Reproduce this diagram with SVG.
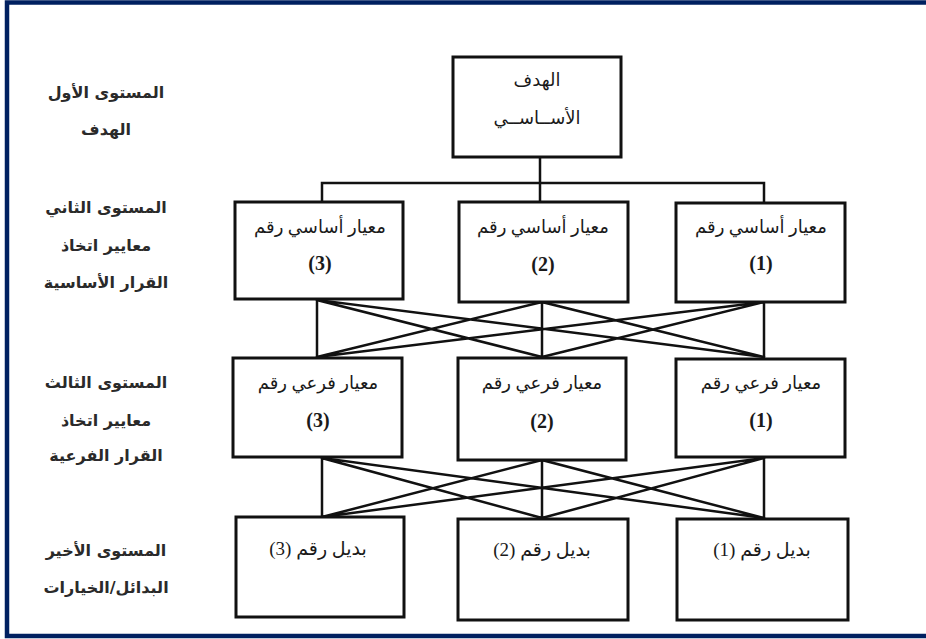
<svg xmlns="http://www.w3.org/2000/svg" width="926" height="639" viewBox="0 0 926 639">
  <style>
    .box { fill: #ffffff; stroke: #111111; stroke-width: 3; }
    .link { fill: none; stroke: #111111; stroke-width: 2.5; stroke-linecap: square; }
    .frame { fill: none; stroke: #002060; stroke-width: 4.5; }
    .lvl { font-family: "DejaVu Sans", sans-serif; font-weight: bold; font-size: 16px; fill: #2a2a2a; text-anchor: middle; }
    .node { font-family: "Liberation Serif", "DejaVu Sans", serif; font-size: 18px; fill: #1a1a1a; text-anchor: middle; }
    .alt { font-family: "Liberation Serif", "DejaVu Sans", serif; font-size: 19px; fill: #1a1a1a; text-anchor: middle; }
    .num { font-family: "Liberation Serif", serif; font-weight: bold; font-size: 20px; fill: #1a1a1a; text-anchor: middle; }
  </style>

  <rect width="926" height="639" fill="#ffffff"/>
  <!-- page frame (open on the right) -->
  <path class="frame" d="M926 2.5 H7 V636 H926"/>

  <!-- level captions -->
  <g id="captions" direction="rtl">
    <text class="lvl" x="106" y="98">المستوى الأول</text>
    <text class="lvl" x="106" y="135">الهدف</text>
    <text class="lvl" x="106" y="213">المستوى الثاني</text>
    <text class="lvl" x="106" y="251">معايير اتخاذ</text>
    <text class="lvl" x="106" y="288">القرار الأساسية</text>
    <text class="lvl" x="106" y="388">المستوى الثالث</text>
    <text class="lvl" x="106" y="426">معايير اتخاذ</text>
    <text class="lvl" x="106" y="461">القرار الفرعية</text>
    <text class="lvl" x="106" y="556">المستوى الأخير</text>
    <text class="lvl" x="106" y="593">البدائل/الخيارات</text>
  </g>

  <!-- connectors -->
  <g id="connectors">
    <path class="link" d="M540 157 V183 M322 183 H764 M322 183 V202 M540 183 V202 M764 183 V202"/>
    <!-- main criteria to sub-criteria -->
    <path class="link" d="M317 300 L317 357 M317 300 L542 357 M317 300 L764 357
                          M542 302 L317 357 M542 302 L542 357 M542 302 L764 357
                          M764 302 L317 357 M764 302 L542 357 M764 302 L764 357"/>
    <!-- sub-criteria to alternatives -->
    <path class="link" d="M322 458 L322 517 M322 458 L542 518 M322 458 L764 518
                          M542 460 L322 517 M542 460 L542 518 M542 460 L764 518
                          M764 458 L322 517 M764 458 L542 518 M764 458 L764 518"/>
  </g>

  <!-- level 1 -->
  <g id="goal">
    <rect class="box" x="453" y="57" width="168" height="100"/>
    <text class="node" x="537" y="86" direction="rtl">الهدف</text>
    <text class="node" x="537" y="124" direction="rtl">الأســاســي</text>
  </g>

  <!-- level 2 -->
  <g id="main-3">
    <rect class="box" x="235" y="202" width="168" height="97"/>
    <text class="node" x="320" y="233" direction="rtl">معيار أساسي رقم</text>
    <text class="num" x="320" y="270">(3)</text>
  </g>
  <g id="main-2">
    <rect class="box" x="459" y="202" width="169" height="100"/>
    <text class="node" x="543" y="233" direction="rtl">معيار أساسي رقم</text>
    <text class="num" x="543" y="271">(2)</text>
  </g>
  <g id="main-1">
    <rect class="box" x="676" y="203" width="169" height="99"/>
    <text class="node" x="761" y="233" direction="rtl">معيار أساسي رقم</text>
    <text class="num" x="761" y="270">(1)</text>
  </g>

  <!-- level 3 -->
  <g id="sub-3">
    <rect class="box" x="233" y="358" width="169" height="99"/>
    <text class="node" x="318" y="389" direction="rtl">معيار فرعي رقم</text>
    <text class="num" x="318" y="427">(3)</text>
  </g>
  <g id="sub-2">
    <rect class="box" x="458" y="358" width="168" height="102"/>
    <text class="node" x="542" y="389" direction="rtl">معيار فرعي رقم</text>
    <text class="num" x="542" y="428">(2)</text>
  </g>
  <g id="sub-1">
    <rect class="box" x="676" y="359" width="169" height="98"/>
    <text class="node" x="761" y="389" direction="rtl">معيار فرعي رقم</text>
    <text class="num" x="761" y="427">(1)</text>
  </g>

  <!-- level 4 -->
  <g id="alt-3">
    <rect class="box" x="236" y="517" width="168" height="100"/>
    <text class="alt" x="318" y="555" direction="rtl">بديل رقم (3)</text>
  </g>
  <g id="alt-2">
    <rect class="box" x="458" y="519" width="170" height="101"/>
    <text class="alt" x="542" y="556" direction="rtl">بديل رقم (2)</text>
  </g>
  <g id="alt-1">
    <rect class="box" x="677" y="519" width="171" height="101"/>
    <text class="alt" x="762" y="556" direction="rtl">بديل رقم (1)</text>
  </g>
</svg>
